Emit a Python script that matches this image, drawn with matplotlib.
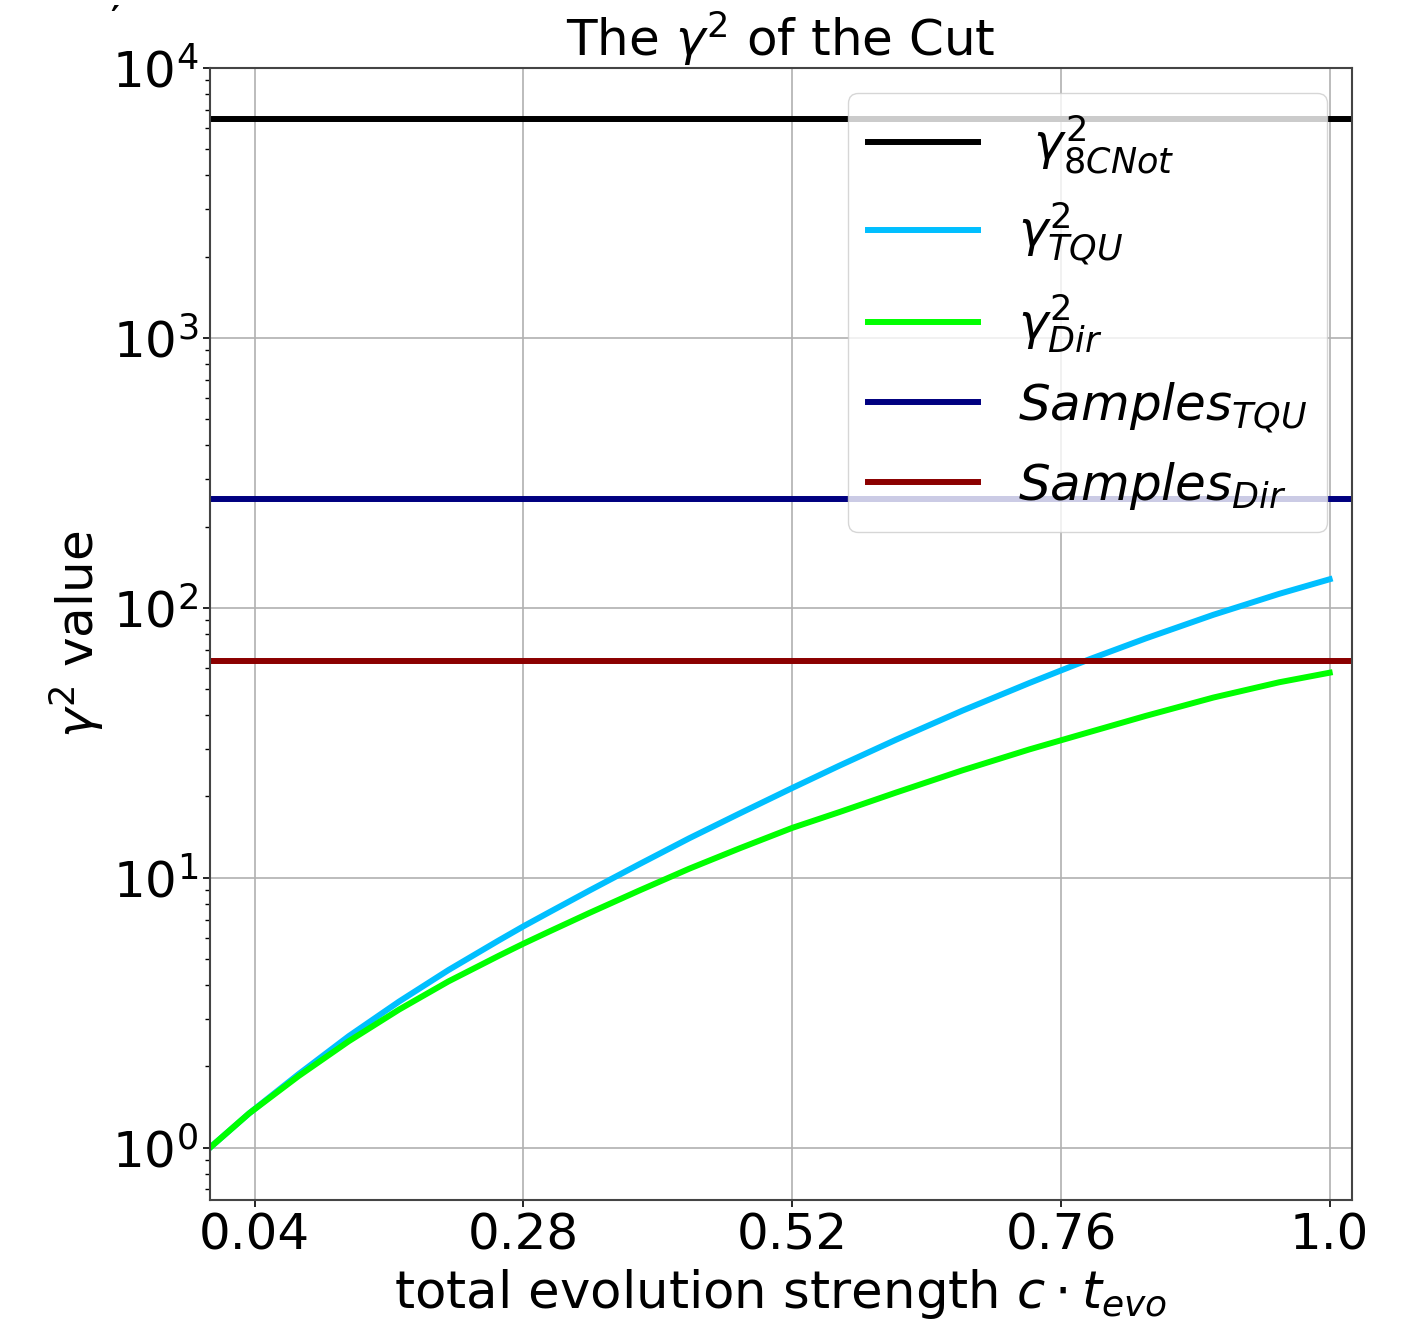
import matplotlib
matplotlib.use("Agg")
import matplotlib.pyplot as plt

# values
x_vals = [0.0, 0.035, 0.079, 0.124, 0.169, 0.213, 0.258, 0.28, 0.303, 0.339, 0.383,
          0.428, 0.473, 0.52, 0.562, 0.613, 0.672, 0.732, 0.76, 0.786, 0.836, 0.896, 0.955, 1.0]
gamma_tqu = [1.0, 1.34, 1.87, 2.59, 3.48, 4.55, 5.86, 6.61, 7.45, 8.97, 11.2,
             14.0, 17.3, 21.5, 26.0, 32.5, 41.6, 52.7, 58.6, 64.6, 77.1, 94.2, 112.7, 127.6]
gamma_dir = [1.0, 1.34, 1.84, 2.48, 3.25, 4.13, 5.14, 5.70, 6.32, 7.41, 8.95,
             10.8, 12.85, 15.3, 17.5, 20.7, 25.0, 29.9, 32.3, 34.7, 39.8, 46.5, 53.0, 57.5]

gamma_8cnot = 6480.0
samples_tqu = 253.0
samples_dir = 63.7

xticks = [0.04, 0.28, 0.52, 0.76, 1.0]
xtick_labels = ["0.04", "0.28", "0.52", "0.76", "1.0"]

fig = plt.figure(figsize=(14.14, 13.23), dpi=100)
ax = fig.add_axes([0.1485, 0.093, 0.8077, 0.8556])

lw = 4.3
ax.axhline(gamma_8cnot, color="black", lw=lw, label=r" $\gamma^2_{8CNot}$")
ax.plot(x_vals, gamma_tqu, color="deepskyblue", lw=lw, label=r"$\gamma^2_{TQU}$")
ax.plot(x_vals, gamma_dir, color="lime", lw=lw, label=r"$\gamma^2_{Dir}$")
ax.axhline(samples_tqu, color="navy", lw=lw, label=r"$Samples_{TQU}$")
ax.axhline(samples_dir, color="darkred", lw=lw, label=r"$Samples_{Dir}$")

ax.set_yscale("log")
ax.set_xlim(0, 1.02)
ax.set_ylim(0.64, 1e4)
ax.set_xticks(xticks)
ax.set_xticklabels(xtick_labels)
ax.tick_params(axis="both", which="major", labelsize=36, length=5, width=1.2)
ax.tick_params(axis="both", which="minor", length=3.5, width=1)
ax.grid(True, which="major", color="#b0b0b0", lw=1.2)
for s in ax.spines.values():
    s.set_color("#444444")
    s.set_linewidth(1.5)

ax.set_title(r"The $\gamma^2$ of the Cut", fontsize=36, pad=6)
ax.set_xlabel(r"total evolution strength $c \cdot t_{evo}$", fontsize=37, labelpad=5)
ax.set_ylabel(r"$\gamma^2$ value", fontsize=36)

ax.legend(loc="upper right", fontsize=36, handlelength=2.2)

# small stray mark in the top-left corner of the original
fig.text(0.081, 0.997, "\u2032", fontsize=24, fontweight="bold", ha="center", va="top")

fig.savefig("out.png", dpi=100)
